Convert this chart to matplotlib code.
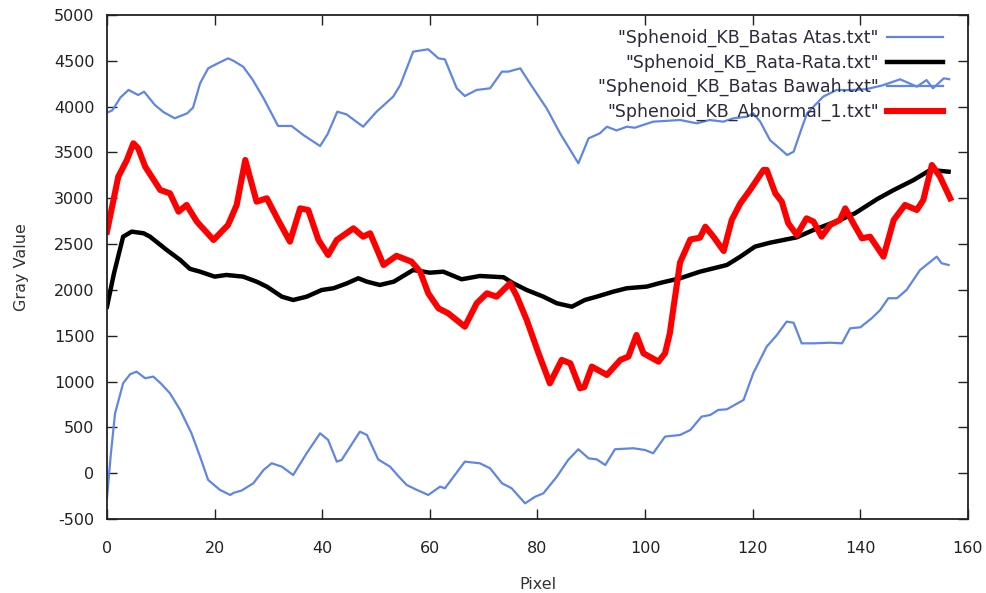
import matplotlib
matplotlib.use("Agg")
import matplotlib.pyplot as plt

# ---- data ----
atas_x = [0, 1, 2.5, 4.0, 5.8, 6.9, 8.9, 10.5, 12.6, 14.9, 16, 17.3, 18.8, 20.5, 22.5, 23.5,
          25.3, 27, 29.1, 31.8, 34.3, 36.5, 39.6, 41, 42.8, 44.5, 47.6, 50.1, 53.2, 54.5, 56.9,
          59.7, 61.6, 62.8, 65.0, 66.5, 68.7, 71.2, 73.4, 74.6, 76.8, 78.6, 81.7, 84.2, 87.6,
          89.5, 91.6, 92.9, 94.7, 96.6, 98.1, 101.5, 106.5, 109.6, 112, 114.5, 116.4, 118.9,
          120.1, 121.4, 123.2, 126.4, 127.6, 129.2, 130.1, 133.1, 135.6, 138, 141, 144, 147.4,
          150.5, 152.3, 153.5, 155.5, 156.5]
atas_y = [3934, 3960, 4100, 4182, 4127, 4163, 4018, 3940, 3873, 3927, 3990, 4254, 4418, 4470,
          4527, 4500, 4436, 4300, 4091, 3789, 3789, 3690, 3570, 3700, 3945, 3916, 3781, 3945,
          4110, 4236, 4600, 4626, 4527, 4516, 4200, 4116, 4182, 4200, 4382, 4382, 4418, 4254,
          3982, 3709, 3382, 3654, 3709, 3781, 3740, 3781, 3770, 3836, 3854, 3818, 3854, 3836,
          3872, 3890, 3927, 3836, 3636, 3472, 3508, 3781, 3927, 4109, 4182, 4180, 4190, 4230,
          4298, 4218, 4290, 4200, 4309, 4300]

rata_x = [0, 1.3, 3.0, 4.6, 6.8, 8.0, 11.1, 13.6, 15.4, 17.3, 20, 22.2, 25.3, 27.8, 29.7, 32.5,
          34.6, 37.1, 39.9, 42.1, 44.6, 46.7, 48.3, 50.7, 53.3, 56.9, 60.0, 62.5, 65.9, 69.3,
          73.7, 75.5, 78.0, 81.1, 83.6, 86.4, 88.8, 91.0, 94.1, 96.6, 100.3, 102.8, 106.5,
          110.2, 115.2, 117.7, 120.4, 123.2, 128.2, 131.3, 136.2, 139.0, 143.1, 146.2, 149.9,
          153.0, 156.4]
rata_y = [1817, 2181, 2581, 2636, 2618, 2581, 2436, 2327, 2230, 2199, 2145, 2163, 2145, 2090,
          2036, 1926, 1890, 1926, 1999, 2018, 2072, 2127, 2090, 2054, 2090, 2217, 2188, 2199,
          2116, 2152, 2138, 2072, 1999, 1926, 1854, 1817, 1890, 1926, 1981, 2018, 2036, 2076,
          2127, 2199, 2272, 2363, 2472, 2515, 2574, 2654, 2763, 2836, 2990, 3090, 3199, 3309,
          3290]

bawah_x = [0, 0.7, 1.5, 3.0, 4.3, 5.5, 7.1, 8.6, 10, 11.7, 13.6, 15.7, 17.3, 18.8, 21.0, 22.9,
           23.5, 25, 27.2, 29.1, 30.6, 32.5, 34.6, 37.1, 39.6, 41.1, 42.7, 43.6, 47.0, 48.3,
           50.4, 52.6, 54.5, 55.7, 57.5, 59.7, 61.9, 62.8, 66.5, 69.3, 71.2, 73.4, 75.2, 77.7,
           79.6, 81.1, 83.6, 85.7, 87.6, 89.5, 91.0, 92.6, 94.4, 97.8, 100.0, 101.5, 103.7,
           106.5, 108.4, 110.5, 112.1, 113.6, 115.2, 118.3, 120.1, 122.6, 124.5, 126.3, 127.6,
           129.1, 131.3, 134.4, 136.6, 138.1, 140.0, 142.1, 143.7, 145.2, 146.8, 148.6, 151.1,
           154.2, 155.1, 156.4]
bawah_y = [-274, 200, 653, 981, 1080, 1108, 1036, 1054, 980, 872, 690, 435, 180, -74, -183,
           -238, -215, -190, -110, 35, 108, 71, -20, 217, 435, 362, 126, 144, 453, 417, 150, 71,
           -55, -129, -180, -238, -147, -165, 126, 108, 53, -110, -165, -329, -256, -220, -38,
           144, 261, 162, 151, 89, 261, 272, 253, 217, 399, 417, 471, 617, 635, 690, 697, 799,
           1090, 1381, 1508, 1654, 1642, 1417, 1417, 1424, 1417, 1581, 1592, 1690, 1781, 1909,
           1909, 2000, 2217, 2363, 2291, 2272]

abn_x = [0, 2.1, 3.7, 4.9, 5.8, 7.1, 9.9, 11.7, 13.3, 14.8, 16.7, 19.8, 22.5, 24.1, 25.7, 27.8,
         29.7, 31.8, 34.0, 35.9, 37.4, 39.3, 41.1, 42.7, 45.8, 47.6, 48.9, 51.4, 53.8, 56.6,
         58.2, 59.7, 61.6, 63.4, 66.5, 68.7, 70.6, 72.4, 74.9, 76.2, 78.0, 80.2, 82.3, 84.5,
         86.1, 87.9, 88.7, 90.1, 92.9, 95.4, 96.9, 98.4, 99.7, 102.5, 103.7, 104.6, 105.3,
         106.5, 108.4, 110.2, 111.2, 112.7, 114.6, 116.1, 117.7, 119.5, 122.0, 122.6, 124.2,
         125.4, 126.6, 128.2, 130.0, 131.3, 132.8, 134.4, 136.2, 137.2, 138.7, 140.3, 141.8,
         144.3, 146.2, 148.3, 150.5, 151.7, 153.3, 154.8, 156.7]
abn_y = [2636, 3236, 3418, 3600, 3545, 3345, 3090, 3054, 2854, 2927, 2745, 2545, 2709, 2927,
         3418, 2963, 3000, 2763, 2527, 2890, 2872, 2545, 2381, 2545, 2672, 2581, 2618, 2272,
         2372, 2308, 2199, 1963, 1799, 1745, 1599, 1854, 1963, 1926, 2072, 1926, 1672, 1308,
         981, 1236, 1199, 926, 940, 1163, 1072, 1236, 1272, 1508, 1308, 1217, 1308, 1527, 1817,
         2300, 2550, 2570, 2690, 2581, 2425, 2763, 2945, 3090, 3309, 3309, 3054, 2963, 2727,
         2600, 2781, 2745, 2581, 2709, 2763, 2890, 2727, 2563, 2581, 2363, 2763, 2927, 2872,
         2981, 3363, 3236, 3000]

labels = ['"Sphenoid_KB_Batas Atas.txt"', '"Sphenoid_KB_Rata-Rata.txt"',
          '"Sphenoid_KB_Batas Bawah.txt"', '"Sphenoid_KB_Abnormal_1.txt"']
xticks = [0, 20, 40, 60, 80, 100, 120, 140, 160]
yticks = [-500, 0, 500, 1000, 1500, 2000, 2500, 3000, 3500, 4000, 4500, 5000]

# ---- figure ----
plt.rcParams['font.family'] = ['DejaVu Sans']
plt.rcParams['axes.unicode_minus'] = False
fig = plt.figure(figsize=(9.87, 5.93), dpi=100)
ax = fig.add_axes([0.1084, 0.1248, 0.8723, 0.8499])

blue = '#5f86e6'
ax.plot(atas_x, atas_y, color=blue, lw=1.6, label=labels[0])
ax.plot(rata_x, rata_y, color='black', lw=3.2, label=labels[1])
ax.plot(bawah_x, bawah_y, color=blue, lw=1.6, label=labels[2])
ax.plot(abn_x, abn_y, color='#ff0000', lw=4.4, label=labels[3])

ax.set_xlim(0, 160)
ax.set_ylim(-500, 5000)
ax.set_xticks(xticks)
ax.set_yticks(yticks)
ax.tick_params(direction='in', length=7, width=1, top=True, right=True,
               labelsize=11.5, colors='#222222')
ax.tick_params(axis='y', pad=9)
ax.tick_params(axis='x', pad=16)
for s in ax.spines.values():
    s.set_linewidth(1.3)
    s.set_color('#222222')

ax.set_xlabel('Pixel', fontsize=11.5, color='#333333', labelpad=15)
ax.set_ylabel('Gray Value', fontsize=11.5, color='#333333', labelpad=18)

leg = ax.legend(loc='upper right', frameon=False, markerfirst=False, fontsize=12.5,
                handlelength=3.2, handletextpad=0.5, labelspacing=0.36,
                bbox_to_anchor=(0.971, 0.972), borderaxespad=0, borderpad=0)
for t in leg.get_texts():
    t.set_color('#2a2a3a')

fig.savefig('out.png', dpi=100)
